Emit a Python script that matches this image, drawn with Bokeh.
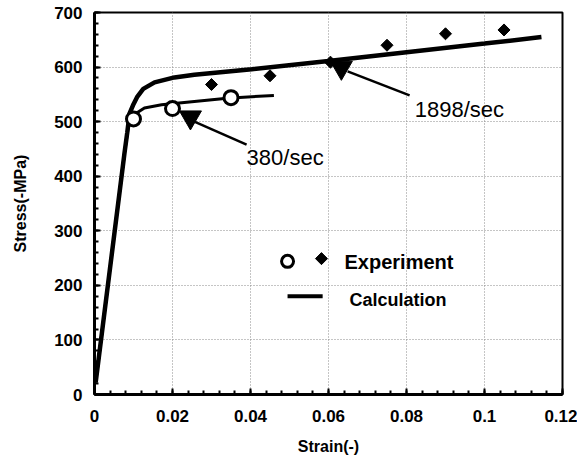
from bokeh.plotting import figure
from bokeh.models import Range1d, FixedTicker, Label
from bokeh.embed import file_html
from bokeh.resources import INLINE

# ---------------- data ----------------
# Calculation, 380/sec
calc380_strain = [0.0003, 0.0077, 0.0088, 0.0100, 0.0128, 0.0172, 0.0256, 0.0340, 0.0460]
calc380_stress = [22, 443, 497, 512, 525, 531, 537, 543, 548]
# Calculation, 1898/sec
calc1898_strain = [0.0003, 0.0077, 0.0084, 0.0090, 0.0100, 0.0110, 0.0125, 0.0154,
                   0.0205, 0.0256, 0.0403, 0.0600, 0.0800, 0.1000, 0.1146]
calc1898_stress = [22, 443, 480, 515, 532, 546, 560, 572, 581, 586, 596, 611, 627, 643, 655]
# Experiment, 380/sec (circles)
exp380_strain = [0.0100, 0.0200, 0.0350]
exp380_stress = [505, 524, 544]
# Experiment, 1898/sec (diamonds)
exp1898_strain = [0.0300, 0.0450, 0.0605, 0.0750, 0.0900, 0.1050]
exp1898_stress = [568, 584, 609, 640, 661, 668]

x_ticks = [0, 0.02, 0.04, 0.06, 0.08, 0.10, 0.12]
x_tick_labels = ["0", "0.02", "0.04", "0.06", "0.08", "0.1", "0.12"]
y_ticks = [0, 100, 200, 300, 400, 500, 600, 700]
y_tick_labels = ["0", "100", "200", "300", "400", "500", "600", "700"]

# ---------------- layout / annotation anchors ----------------
FONT = "Liberation Sans"
arrow380 = dict(tri=(0.0246, 508), seg=(0.0256, 500, 0.0390, 458), txt=(0.0390, 434), label="380/sec")
arrow1898 = dict(tri=(0.0633, 599), seg=(0.0649, 592, 0.0808, 548), txt=(0.0821, 522), label="1898/sec")

p = figure(width=577, height=461, output_backend="svg", toolbar_location=None,
           x_range=Range1d(0, 0.12), y_range=Range1d(0, 700),
           min_border_left=94, min_border_right=15, min_border_top=12, min_border_bottom=67)
p.background_fill_color = "white"
p.outline_line_color = "black"
p.outline_line_width = 2

for ax in (p.xaxis[0], p.yaxis[0]):
    ax.axis_line_width = 3
    ax.axis_line_color = "black"
    ax.major_tick_in = 6
    ax.major_tick_out = 0
    ax.minor_tick_in = 4
    ax.minor_tick_out = 0
    ax.major_tick_line_width = 2
    ax.minor_tick_line_width = 2
    ax.major_label_text_font = FONT
    ax.major_label_text_font_size = "17px"
    ax.major_label_text_font_style = "bold"
    ax.major_label_text_color = "black"
    ax.axis_label_text_font = FONT
    ax.axis_label_text_font_size = "16px"
    ax.axis_label_text_font_style = "bold"
    ax.axis_label_text_color = "black"

p.xaxis.ticker = FixedTicker(ticks=x_ticks, minor_ticks=[i * 0.004 for i in range(31)])
p.yaxis.ticker = FixedTicker(ticks=y_ticks, minor_ticks=list(range(0, 701, 20)))
p.xaxis.major_label_overrides = {t: l for t, l in zip(x_ticks, x_tick_labels)}
p.yaxis.major_label_overrides = {t: l for t, l in zip(y_ticks, y_tick_labels)}
p.xaxis.axis_label = "Strain(-)"
p.yaxis.axis_label = "Stress(-MPa)"
p.xaxis.major_label_standoff = 15
p.yaxis.major_label_standoff = 12
p.xaxis.axis_label_standoff = 13
p.yaxis.axis_label_standoff = 22

p.grid.grid_line_color = "#8a8a8a"
p.grid.grid_line_dash = "1 2"
p.grid.grid_line_width = 1

# calculation curves
p.line(calc1898_strain, calc1898_stress, line_color="black", line_width=4.5)
p.line(calc380_strain, calc380_stress, line_color="black", line_width=3)

# experiment points
p.scatter(exp1898_strain, exp1898_stress, marker="square", angle=0.785398, size=8.5,
          fill_color="black", line_color="black", line_width=1)
p.scatter(exp380_strain, exp380_stress, marker="circle", size=14,
          fill_color="white", line_color="black", line_width=3)

# rate annotations
for a in (arrow380, arrow1898):
    x0, y0, x1, y1 = a["seg"]
    p.segment(x0=[x0], y0=[y0], x1=[x1], y1=[y1], line_color="black", line_width=2.5)
    p.scatter([a["tri"][0]], [a["tri"][1]], marker="inverted_triangle", size=22,
              fill_color="black", line_color="black")
    p.add_layout(Label(x=a["txt"][0], y=a["txt"][1], text=a["label"], text_font=FONT,
                       text_font_size="22px", text_color="black", text_baseline="alphabetic"))

# legend (hand-built)
p.scatter([0.0495], [244], marker="circle", size=12, fill_color="white", line_color="black", line_width=3)
p.scatter([0.0582], [249], marker="square", angle=0.785398, size=8.5, fill_color="black", line_color="black")
p.add_layout(Label(x=0.0641, y=242, text="Experiment", text_font=FONT, text_font_size="20px",
                   text_font_style="bold", text_color="black", text_baseline="alphabetic"))
p.segment(x0=[0.0495], y0=[180], x1=[0.0585], y1=[180], line_color="black", line_width=4)
p.add_layout(Label(x=0.0654, y=174, text="Calculation", text_font=FONT, text_font_size="18px",
                   text_font_style="bold", text_color="black", text_baseline="alphabetic"))

open("out.html", "w").write(file_html(p, INLINE))
